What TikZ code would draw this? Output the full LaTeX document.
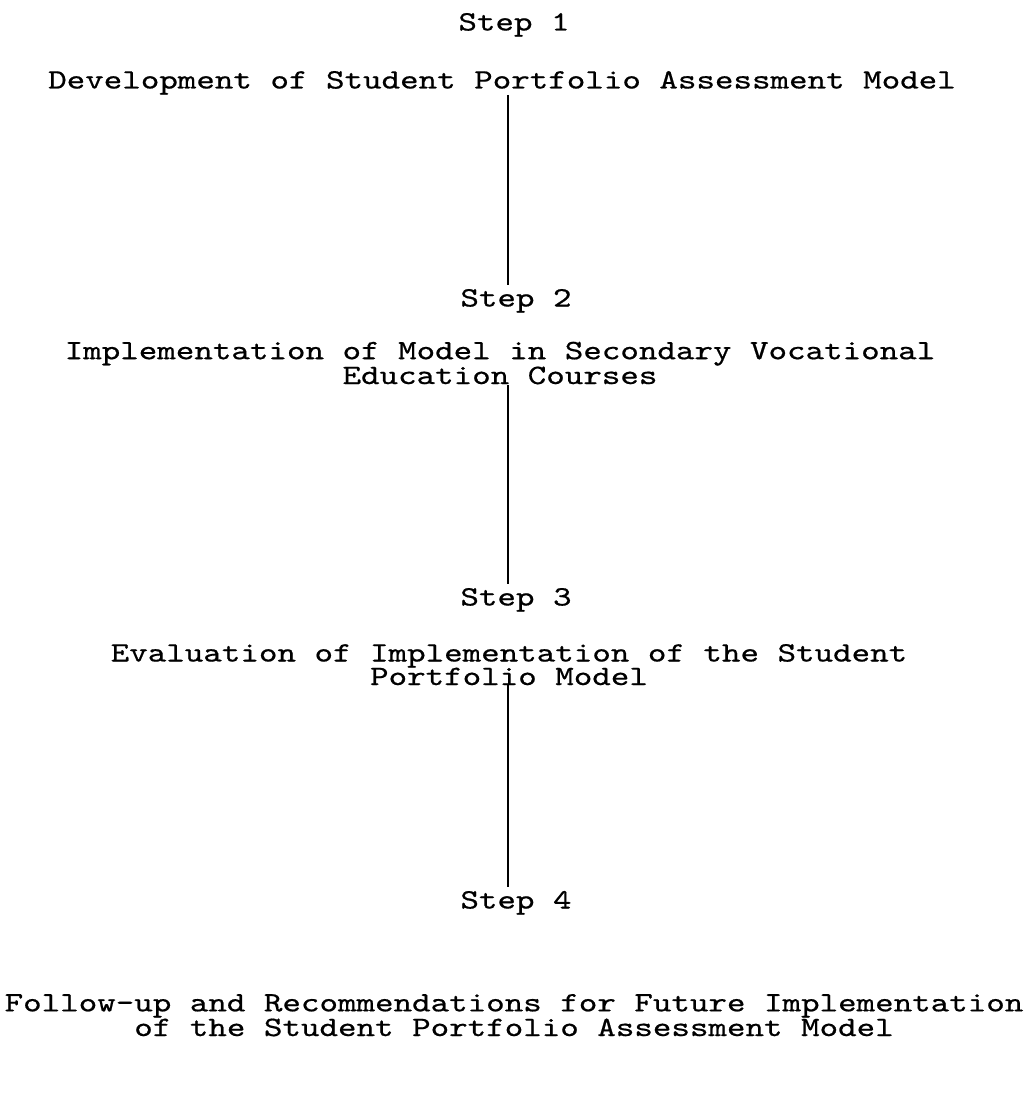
\documentclass[tikz,border=0pt]{standalone}
\usepackage{fontspec}
\newfontfamily\typewriter{lmmono10-regular.otf}[FakeStretch=1.26, FakeBold=0.6]
\begin{document}
\begin{tikzpicture}[x=1pt, y=-1pt,
  steplabel/.style={font=\typewriter\fontsize{28}{23.5}\selectfont, inner sep=0pt, anchor=base},
  stagetext/.style={font=\typewriter\fontsize{28}{23.5}\selectfont, inner sep=0pt, anchor=base, align=center},
  spine/.style={line width=1.7pt}]
  \useasboundingbox[fill=white] (0,0) rectangle (1028,1094);
  \coordinate (axis) at (508,0);

  % the four stages, each with its step number above it
  % (a two-line node sits on the baseline of its last line)
  \node[steplabel] (s1) at (514,30.5) {Step 1};
  \node[stagetext] (t1) at (502,88.5) {Development of Student Portfolio Assessment Model};

  \node[steplabel] (s2) at (516,306.5) {Step 2};
  \node[stagetext] (t2) at (500,384) {Implementation of Model in Secondary Vocational\\Education Courses};

  \node[steplabel] (s3) at (516,605.5) {Step 3};
  \node[stagetext] (t3) at (509,685) {Evaluation of Implementation of the Student\\Portfolio Model};

  \node[steplabel] (s4) at (516,908.5) {Step 4};
  \node[stagetext] (t4) at (514,1036) {Follow-up and Recommendations for Future Implementation\\of the Student Portfolio Assessment Model};

  % vertical connectors between stages
  \draw[spine] (t1.south -| axis) -- ([yshift=4pt]s2.north -| axis);
  \draw[spine] (t2.south -| axis) -- ([yshift=4pt]s3.north -| axis);
  \draw[spine] (t3.south -| axis) -- ([yshift=4pt]s4.north -| axis);
\end{tikzpicture}
\end{document}
